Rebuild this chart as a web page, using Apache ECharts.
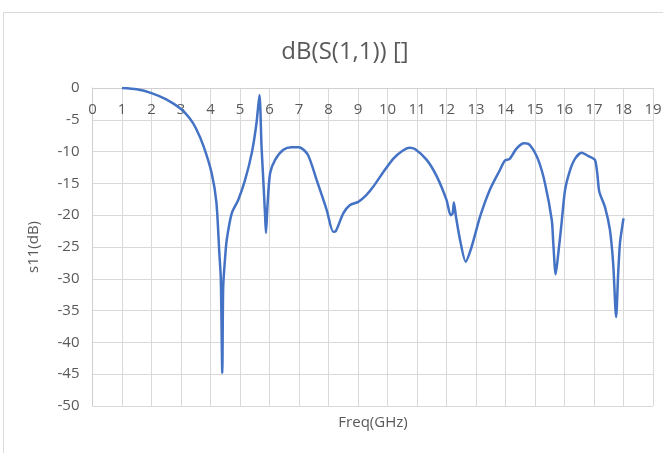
<!DOCTYPE html>
<html>
<head>
<meta charset="utf-8">
<script src="https://cdn.jsdelivr.net/npm/echarts@6/dist/echarts.min.js"></script>
<style>html,body{margin:0;padding:0;background:#fff}#c{width:663px;height:453px}</style>
</head>
<body>
<div id="c"></div>
<script>
const titleText = 'dB(S(1,1)) []';
const xName = 'Freq(GHz)';
const yName = 's11(dB)';
const freq = [1.0,1.5,2.0,2.5,3.0,3.3,3.5,3.76,4.04,4.2,4.3,4.35,4.40,4.43,4.49,4.55,4.72,4.94,5.17,5.4,5.56,5.66,5.73,5.79,5.85,5.88,5.93,6.02,6.19,6.47,6.75,7.0,7.3,7.6,7.94,8.16,8.25,8.5,8.73,9.01,9.29,9.52,9.86,10.2,10.5,10.75,10.93,11.33,11.67,12.0,12.14,12.21,12.25,12.32,12.46,12.65,12.85,13.14,13.47,13.81,13.98,14.13,14.38,14.63,14.83,15.11,15.34,15.57,15.62,15.70,15.79,15.90,16.02,16.19,16.36,16.58,16.81,17.03,17.11,17.18,17.37,17.54,17.65,17.75,17.82,17.88,17.94,18.0];
const s11 = [0,-0.2,-0.8,-1.8,-3.3,-4.8,-6.3,-9.1,-13.4,-18,-26,-30,-44.8,-31.3,-27,-23.9,-19.7,-17.6,-14.5,-10.2,-5.5,-1.1,-9.2,-14.5,-20,-22.8,-18.6,-13.4,-11.3,-9.7,-9.3,-9.3,-10.5,-14.5,-19.2,-22.6,-22.5,-19.7,-18.4,-17.9,-16.8,-15.5,-13.2,-11.1,-9.9,-9.4,-9.6,-11.3,-13.9,-17.6,-20,-19.7,-18,-20.2,-23.9,-27.3,-25,-20.2,-16,-12.9,-11.4,-11.2,-9.5,-8.7,-9.0,-11.3,-15,-20.8,-24.4,-29.3,-26,-21.3,-16,-12.9,-11.1,-10.2,-10.7,-11.3,-13.4,-16.3,-18.7,-22.3,-27.6,-36,-29.1,-24.4,-22.3,-20.5];
const xMin = 0, xMax = 19, xStep = 1;
const yMin = -50, yMax = 0, yStep = 5;

const font = '"Open Sans", "Noto Sans", sans-serif';
const chart = echarts.init(document.getElementById('c'), null, {renderer: 'canvas'});
chart.setOption({
  animation: false,
  backgroundColor: '#fff',
  title: {
    text: titleText, left: 340, top: 35, textAlign: 'center',
    textStyle: {fontFamily: font, fontSize: 24, fontWeight: 'normal', color: '#595959'}
  },
  graphic: [{
    type: 'rect', shape: {x: 3.5, y: 12.5, width: 720, height: 520},
    style: {fill: 'none', stroke: '#d9d9d9', lineWidth: 1}, silent: true
  }, {
    type: 'text', x: 373, y: 423,
    style: {text: xName, fontFamily: font, fontSize: 15, fill: '#595959', align: 'center', verticalAlign: 'middle'},
    silent: true
  }],
  grid: {left: 92.5, right: 10, top: 88, bottom: 47, containLabel: false, outerBoundsMode: 'none'},
  xAxis: {
    type: 'value', min: xMin, max: xMax, interval: xStep, position: 'top',
    axisLine: {show: true, onZero: false, lineStyle: {color: '#cfcfcf', width: 1}},
    axisTick: {show: false},
    axisLabel: {inside: true, fontFamily: font, fontSize: 15, color: '#595959', margin: 14},
    splitLine: {show: true, lineStyle: {color: '#d9d9d9', width: 1}}
  },
  yAxis: {
    type: 'value', min: yMin, max: yMax, interval: yStep,
    name: yName, nameLocation: 'middle', nameRotate: 90, nameGap: 51,
    nameTextStyle: {fontFamily: font, fontSize: 15, color: '#595959'},
    axisLine: {show: true, lineStyle: {color: '#cfcfcf', width: 1}},
    axisTick: {show: false},
    axisLabel: {fontFamily: font, fontSize: 15, color: '#595959', margin: 13},
    splitLine: {show: true, lineStyle: {color: '#d9d9d9', width: 1}}
  },
  series: [{
    type: 'line',
    data: freq.map((f, i) => [f, s11[i]]),
    showSymbol: false,
    smooth: 0.25,
    lineStyle: {color: '#4472C4', width: 2.5},
    itemStyle: {color: '#4472C4'}
  }]
});
</script>
</body>
</html>
